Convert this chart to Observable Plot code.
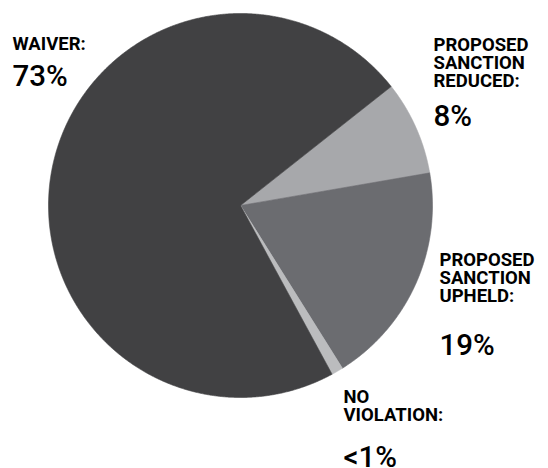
<!DOCTYPE html>
<html>
<head>
<meta charset="utf-8">
<script src="https://cdn.jsdelivr.net/npm/d3@7"></script>
<script src="https://cdn.jsdelivr.net/npm/@observablehq/plot@0.6"></script>
<style>
  html, body { margin: 0; padding: 0; background: #fff; }
  #chart svg { display: block; }
</style>
</head>
<body>
<div id="chart"></div>
<script>
// Data (order clockwise starting from the upper-right)
const categories = ["PROPOSED SANCTION REDUCED", "PROPOSED SANCTION UPHELD", "NO VIOLATION", "WAIVER"];
const shares = [8, 19, 1, 73];
const pctLabels = ["8%", "19%", "<1%", "73%"];
const colors = ["#a7a8ab", "#6b6c70", "#bbbcbe", "#414143"];

const startAngle = 51.7 * Math.PI / 180;
const arcs = d3.pie().sort(null).value(d => d.value)
  .startAngle(startAngle).endAngle(startAngle + 2 * Math.PI)(
    categories.map((c, i) => ({name: c, value: shares[i]}))
  );

// polygon vertices for each slice, in unit-circle coordinates
const pts = [];
for (const a of arcs) {
  const n = Math.ceil((a.endAngle - a.startAngle) / 0.005) + 1;
  pts.push({name: a.data.name, x: 0, y: 0});
  for (let k = 0; k <= n; k++) {
    const t = a.startAngle + (a.endAngle - a.startAngle) * k / n;
    pts.push({name: a.data.name, x: Math.sin(t), y: Math.cos(t)});
  }
  pts.push({name: a.data.name, x: 0, y: 0});
}

const labelFont = "Roboto, 'Liberation Sans', sans-serif";
const nameStyle = {frameAnchor: "top-left", lineAnchor: "top", textAnchor: "start",
  fontSize: 18.5, fontWeight: 700, lineHeight: 18 / 18.5, fontFamily: labelFont, fill: "#000"};
const pctStyle = {frameAnchor: "top-left", lineAnchor: "top", textAnchor: "start",
  fontSize: 29.5, fontWeight: 500, fontFamily: labelFont, fill: "#000"};

const chart = Plot.plot({
  width: 548,
  height: 468,
  margin: 0,
  x: {domain: [-1, 1], range: [48, 432], axis: null},
  y: {domain: [-1, 1], range: [397, 13], axis: null},
  color: {domain: categories, range: colors},
  style: {background: "#fff"},
  marks: [
    Plot.line(pts, {x: "x", y: "y", z: "name", fill: "name", stroke: "name", strokeWidth: 0.6, curve: "linear"}),
    Plot.text(["WAIVER:"], {...nameStyle, dx: 12, dy: 37}),
    Plot.text([pctLabels[3]], {...pctStyle, dx: 12, dy: 65}),
    Plot.text(["PROPOSED\nSANCTION\nREDUCED:"], {...nameStyle, dx: 433, dy: 38}),
    Plot.text([pctLabels[0]], {...pctStyle, dx: 433, dy: 105}),
    Plot.text(["PROPOSED\nSANCTION\nUPHELD:"], {...nameStyle, dx: 439, dy: 253}),
    Plot.text([pctLabels[1]], {...pctStyle, dx: 439, dy: 334}),
    Plot.text(["NO\nVIOLATION:"], {...nameStyle, dx: 343, dy: 390}),
    Plot.text([pctLabels[2]], {...pctStyle, dx: 343, dy: 446})
  ]
});
document.getElementById("chart").append(chart);
</script>
</body>
</html>
